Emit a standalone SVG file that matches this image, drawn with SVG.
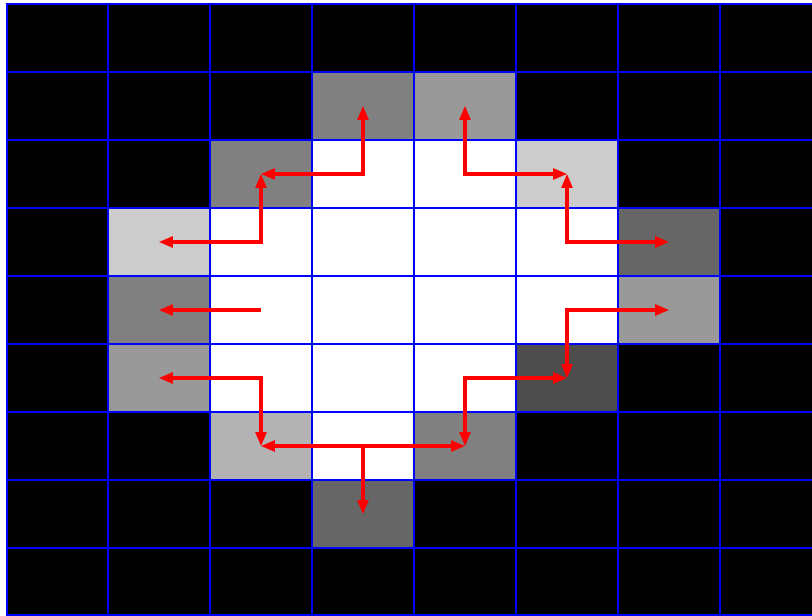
<svg xmlns="http://www.w3.org/2000/svg" width="812" height="616" viewBox="0 0 812 616">
<style>
.a{fill:none;stroke:#ff0000;stroke-width:4;stroke-linejoin:miter;stroke-linecap:butt;marker-end:url(#h)}
.b{marker-start:url(#h)}
.g{stroke:#0000ff;stroke-width:2;fill:none}
</style>
<defs>
<marker id="h" markerUnits="userSpaceOnUse" markerWidth="16" markerHeight="14" viewBox="0 0 16 14" refX="5" refY="7" orient="auto-start-reverse">
<path d="M1,1 L15,7 L1,13 Z" fill="#ff0000"/>
</marker>
</defs>
<rect width="812" height="616" fill="#ffffff"/>
<g id="cells">
<rect x="6" y="4" width="820" height="612" fill="#000000"/>
<rect x="312" y="72" width="102" height="68" fill="#808080"/>
<rect x="414" y="72" width="102" height="68" fill="#999999"/>
<rect x="210" y="140" width="102" height="68" fill="#808080"/>
<rect x="312" y="140" width="204" height="68" fill="#ffffff"/>
<rect x="516" y="140" width="102" height="68" fill="#cccccc"/>
<rect x="108" y="208" width="102" height="68" fill="#cccccc"/>
<rect x="210" y="208" width="408" height="136" fill="#ffffff"/>
<rect x="618" y="208" width="102" height="68" fill="#666666"/>
<rect x="108" y="276" width="102" height="68" fill="#808080"/>
<rect x="618" y="276" width="102" height="68" fill="#999999"/>
<rect x="108" y="344" width="102" height="68" fill="#999999"/>
<rect x="210" y="344" width="306" height="68" fill="#ffffff"/>
<rect x="516" y="344" width="102" height="68" fill="#4d4d4d"/>
<rect x="210" y="412" width="102" height="68" fill="#b3b3b3"/>
<rect x="312" y="412" width="102" height="68" fill="#ffffff"/>
<rect x="414" y="412" width="102" height="68" fill="#808080"/>
<rect x="312" y="480" width="102" height="68" fill="#666666"/>
</g>
<g id="grid" class="g">
<path d="M7,4 V616 M108,4 V616 M210,4 V616 M312,4 V616 M414,4 V616 M516,4 V616 M618,4 V616 M720,4 V616"/>
<path d="M6,4 H812 M6,72 H812 M6,140 H812 M6,208 H812 M6,276 H812 M6,344 H812 M6,412 H812 M6,480 H812 M6,548 H812 M6,615 H812"/>
</g>
<g id="connectors">
<polyline class="a b" points="271,174 363,174 363,116"/>
<polyline class="a b" points="465,116 465,174 557,174"/>
<polyline class="a b" points="261,184 261,242 169,242"/>
<polyline class="a b" points="567,184 567,242 659,242"/>
<polyline class="a" points="261,310 169,310"/>
<polyline class="a b" points="659,310 567,310 567,368"/>
<polyline class="a b" points="169,378 261,378 261,436"/>
<polyline class="a b" points="465,436 465,378 557,378"/>
<polyline class="a b" points="271,446 455,446"/>
<polyline class="a" points="363,446 363,504"/>
</g>
</svg>
